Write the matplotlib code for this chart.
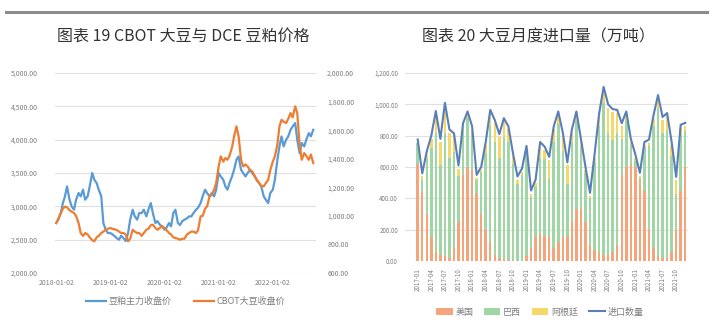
import matplotlib
matplotlib.use("Agg")
import matplotlib.pyplot as plt
import matplotlib.dates as mdates
from matplotlib.lines import Line2D
from matplotlib.ticker import MultipleLocator, FuncFormatter
import pandas as pd
import numpy as np
import datetime as dt

plt.rcParams['font.family'] = ['Noto Sans CJK SC', 'DejaVu Sans']

# ---------------- Left chart data (semi-monthly closes) ----------------
meal_close = [  # 豆粕主力收盘价 (left axis)
    2750, 2800, 2900, 3050, 3150, 3300, 3100, 3000, 2950, 3100, 3200, 3150,
    3250, 3100, 3150, 3300, 3500, 3400, 3350, 3250, 3150, 2750, 2650, 2600,
    2600, 2580, 2550, 2520, 2500, 2560, 2520, 2480, 2600, 2800, 2950, 2850,
    2800, 2900, 2900, 2950, 2850, 2950, 3050, 2900, 2750, 2780, 2725, 2700,
    2650, 2680, 2750, 2700, 2900, 2950, 2750, 2720, 2780, 2800, 2820, 2850,
    2850, 2900, 2950, 2980, 3050, 3150, 3250, 3200, 3150, 3200, 3150, 3250,
    3500, 3450, 3400, 3300, 3250, 3350, 3450, 3550, 3700, 3750, 3550, 3500,
    3450, 3500, 3550, 3500, 3450, 3400, 3350, 3300, 3150, 3100, 3050, 3200,
    3250, 3400, 3700, 3900, 4050, 3900, 4000, 4050, 4150, 4200, 4250, 4000,
    3800, 3950, 3900, 4000, 4100, 4050, 4150]
cbot_close = [  # CBOT大豆收盘价 (right axis)
    950, 980, 1020, 1050, 1065, 1060, 1040, 1030, 1020, 1000, 950, 880,
    860, 880, 870, 850, 830, 822, 850, 860, 880, 890, 903, 910,
    915, 910, 905, 900, 890, 880, 880, 870, 822, 840, 903, 890,
    880, 880, 860, 880, 903, 910, 935, 938, 915, 903, 915, 930,
    915, 900, 880, 870, 850, 845, 840, 833, 840, 840, 870, 880,
    890, 890, 880, 900, 997, 1000, 1050, 1067, 1137, 1150, 1183, 1230,
    1347, 1417, 1380, 1405, 1393, 1420, 1480, 1557, 1627, 1560, 1393, 1347,
    1360, 1347, 1320, 1312, 1280, 1250, 1230, 1210, 1207, 1230, 1253, 1320,
    1380, 1417, 1500, 1627, 1673, 1660, 1650, 1680, 1720, 1690, 1767, 1720,
    1500, 1393, 1440, 1420, 1393, 1430, 1370]
left_ticks = ['2018-01-02', '2019-01-02', '2020-01-02', '2021-01-02', '2022-01-02']

# ---------------- Right chart data (monthly, 万吨) ----------------
months = pd.date_range('2017-01-01', '2021-12-01', freq='MS')
total_import = [776, 560, 700, 800, 958, 780, 1010, 840, 815, 610, 880, 955,
                860, 550, 600, 760, 965, 900, 810, 912, 860, 690, 540, 590,
                735, 450, 520, 760, 730, 665, 860, 955, 820, 630, 840, 955,
                780, 600, 435, 680, 940, 1112, 1000, 970, 965, 880, 955, 780,
                680, 563, 760, 775, 930, 1060, 920, 945, 760, 537, 870, 882]
usa = [620, 440, 300, 150, 60, 40, 30, 20, 80, 250, 550, 600,
       580, 430, 300, 200, 120, 40, 20, 10, 5, 5, 3, 2,
       30, 80, 150, 170, 160, 150, 80, 120, 150, 150, 250, 330,
       330, 250, 100, 70, 50, 40, 40, 60, 100, 550, 600, 620,
       600, 520, 450, 200, 80, 30, 20, 20, 60, 200, 450, 600]
brazil = [136, 80, 350, 570, 758, 570, 790, 640, 615, 290, 280, 315,
          240, 90, 270, 490, 745, 720, 640, 782, 755, 615, 487, 548,
          665, 330, 320, 490, 490, 375, 680, 755, 550, 340, 510, 565,
          400, 310, 305, 560, 810, 972, 780, 710, 715, 230, 295, 120,
          40, 13, 280, 535, 780, 950, 800, 815, 610, 227, 360, 232]
argentina = [0, 20, 30, 60, 120, 150, 170, 160, 100, 50, 30, 20,
             20, 10, 10, 50, 80, 120, 130, 100, 80, 50, 30, 20,
             20, 20, 30, 80, 60, 120, 80, 60, 100, 120, 60, 40,
             30, 20, 10, 30, 60, 80, 160, 180, 130, 80, 40, 20,
             20, 10, 10, 20, 50, 60, 80, 90, 70, 90, 40, 30]

GRAY_TXT = '#7f7f7f'
GRID = '#e0e0e0'

fig = plt.figure(figsize=(7.2, 3.25), dpi=100)
fig.patch.set_facecolor('white')

# top rule
fig.add_artist(Line2D([0.008, 0.982], [0.963, 0.963], color='#8c8c8c', lw=2.2,
                      transform=fig.transFigure))
fig.text(0.255, 0.885, '图表 19 CBOT 大豆与 DCE 豆粕价格', ha='center', va='center',
         fontsize=11.5, color='#333333')
fig.text(0.748, 0.885, '图表 20 大豆月度进口量（万吨）', ha='center', va='center',
         fontsize=11.5, color='#333333')

fmt2 = FuncFormatter(lambda v, p: f'{v:,.2f}')

# ---------------- Left chart ----------------
ax = fig.add_axes([0.076, 0.160, 0.363, 0.615])
dates = pd.date_range('2018-01-01', periods=len(meal_close), freq='SMS')
ax.plot(dates, meal_close, color='#5B9BD5', lw=1.6, label='豆粕主力收盘价', zorder=3)
ax.set_ylim(2000, 5000)
ax.yaxis.set_major_locator(MultipleLocator(500))
ax.yaxis.set_major_formatter(fmt2)
ax.grid(axis='y', color=GRID, lw=0.8)
ax.set_axisbelow(True)
ax.set_xlim(dt.datetime(2017, 12, 22), dt.datetime(2022, 10, 20))
ax.set_xticks([pd.Timestamp(t) for t in left_ticks])
ax.set_xticklabels(left_ticks)
ax2 = ax.twinx()
ax2.plot(dates, cbot_close, color='#ED7D31', lw=1.6, label='CBOT大豆收盘价', zorder=3)
ax2.set_ylim(600, 2000)
ax2.yaxis.set_major_locator(MultipleLocator(200))
ax2.yaxis.set_major_formatter(fmt2)
for a in (ax, ax2):
    for s in a.spines.values():
        s.set_visible(False)
    a.tick_params(length=0, labelsize=5, colors=GRAY_TXT, pad=4)
ax.tick_params(axis='y', pad=12)
ax2.tick_params(axis='y', pad=8)
h1, l1 = ax.get_legend_handles_labels()
h2, l2 = ax2.get_legend_handles_labels()
fig.legend(h1 + h2, l1 + l2, loc='center', bbox_to_anchor=(0.258, 0.072), ncol=2,
           frameon=False, fontsize=6.5, labelcolor=GRAY_TXT, handlelength=2.2,
           columnspacing=2.5, handletextpad=0.3)

# ---------------- Right chart ----------------
bx = fig.add_axes([0.5625, 0.197, 0.393, 0.578])
x = np.arange(len(months))
w = 0.55
c_us, c_br, c_ar = '#F4A57C', '#9FD6A3', '#F5D76A'
b1 = bx.bar(x, usa, width=w, color=c_us, label='美国', zorder=2)
b2 = bx.bar(x, brazil, width=w, bottom=usa, color=c_br, label='巴西', zorder=2)
bottom2 = [u + b for u, b in zip(usa, brazil)]
b3 = bx.bar(x, argentina, width=w, bottom=bottom2, color=c_ar, label='阿根廷', zorder=2)
ln, = bx.plot(x, total_import, color='#5A7FB8', lw=1.5, label='进口数量', zorder=3)
bx.set_ylim(0, 1200)
bx.yaxis.set_major_locator(MultipleLocator(200))
bx.yaxis.set_major_formatter(fmt2)
bx.set_xlim(-2.8, 59.6)
bx.set_xticks(x[::3])
bx.set_xticklabels([m.strftime('%Y-%m') for m in months[::3]], rotation=90)
bx.grid(axis='y', color=GRID, lw=0.8)
bx.set_axisbelow(True)
for s in bx.spines.values():
    s.set_visible(False)
bx.tick_params(length=0, labelsize=4.5, colors=GRAY_TXT, pad=5)
fig.legend([b1, b2, b3, ln], ['美国', '巴西', '阿根廷', '进口数量'], loc='center',
           bbox_to_anchor=(0.75, 0.04), ncol=4,
           frameon=False, fontsize=6.5, labelcolor=GRAY_TXT, handlelength=1.8,
           handleheight=0.8, columnspacing=1.2, handletextpad=0.3)

fig.savefig('out.png', dpi=100, facecolor='white')
